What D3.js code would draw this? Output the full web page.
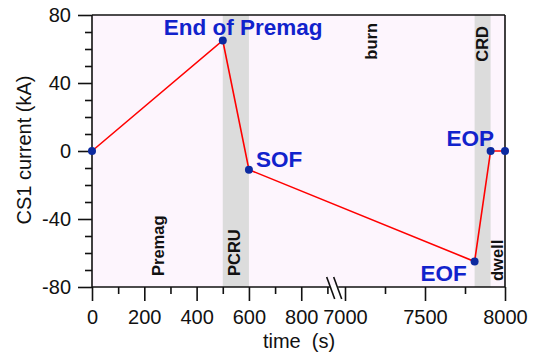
<!DOCTYPE html>
<html>
<head>
<meta charset="utf-8">
<script src="https://cdn.jsdelivr.net/npm/d3@7"></script>
<style>
  html, body { margin: 0; padding: 0; background: #ffffff; }
  svg { display: block; font-family: "Liberation Sans", Arial, sans-serif; }
</style>
</head>
<body>
<svg id="chart" width="536" height="357"></svg>
<script>
// CS1 current waveform over one pulse (time in s, current in kA)
const pointTimes    = [0, 500, 600, 7810, 7910, 8000];
const pointCurrents = [0, 65, -11, -65, 0, 0];

// named waveform events: [index into the points, label]
const eventLabels = ["End of Premag", "SOF", "EOF", "EOP"];
const eventIndex  = [1, 2, 3, 4];

// phases of the pulse: start / end time, and whether the band is shaded
const phaseNames  = ["Premag", "PCRU", "burn", "CRD", "dwell"];
const phaseStart  = [0, 500, 600, 7810, 7910];
const phaseEnd    = [500, 600, 7810, 7910, 8000];
const phaseShaded = [false, true, false, true, false];

// broken time axis: early segment and late segment
const xMajorLeft  = [0, 200, 400, 600, 800];
const xMinorLeft  = [100, 300, 500, 700, 900];
const xMajorRight = [7000, 7500, 8000];
const xMinorRight = [7250, 7750];
const yMajor = [-80, -40, 0, 40, 80];
const yMinor = [-70, -60, -50, -30, -20, -10, 10, 20, 30, 50, 60, 70];

const svg = d3.select("#chart");
const plotL = 92, plotR = 505, plotT = 15, plotB = 287;

const xLeft  = d3.scaleLinear().domain([0, 900]).range([plotL, 327.4]);
const xRight = d3.scaleLinear().domain([6950, 8000]).range([337, plotR]);
const x = t => (t <= 900 ? xLeft(t) : xRight(t));
const y = d3.scaleLinear().domain([-80, 80]).range([plotB, plotT]);

const bgColor = "#fdf5fd", bandColor = "#dcdcdc";
const blue = "#1122cc", markerBlue = "#0c2aa0";
const plainNumber = d => String(d);

// plot background
svg.append("rect")
  .attr("x", plotL).attr("y", plotT)
  .attr("width", plotR - plotL).attr("height", plotB - plotT)
  .attr("fill", bgColor);

// shaded phase bands
svg.append("g").selectAll("rect")
  .data(phaseNames.map((n, i) => ({ n, s: phaseStart[i], e: phaseEnd[i], shaded: phaseShaded[i] }))
        .filter(d => d.shaded))
  .join("rect")
  .attr("x", d => x(d.s)).attr("y", plotT)
  .attr("width", d => x(d.e) - x(d.s)).attr("height", plotB - plotT)
  .attr("fill", bandColor);

// phase names, rotated
const phaseLabelPos = {
  Premag: { x: 163.5, y: 276, anchor: "start" },
  PCRU:   { x: 240,   y: 276, anchor: "start" },
  burn:   { x: 377,   y: 23,  anchor: "end" },
  CRD:    { x: 487.5, y: 26,  anchor: "end" },
  dwell:  { x: 502.5, y: 281, anchor: "start" }
};
svg.append("g").selectAll("text")
  .data(phaseNames)
  .join("text")
  .attr("transform", d => `translate(${phaseLabelPos[d].x},${phaseLabelPos[d].y}) rotate(-90)`)
  .attr("text-anchor", d => phaseLabelPos[d].anchor)
  .attr("font-size", 16.5).attr("font-weight", "bold").attr("fill", "#111")
  .text(d => d);

// y axis: major and minor ticks
const yAxisMajor = d3.axisLeft(y).tickValues(yMajor).tickSize(14).tickPadding(7).tickFormat(plainNumber);
const yAxisMinor = d3.axisLeft(y).tickValues(yMinor).tickSize(7).tickFormat("");
svg.append("g").attr("transform", `translate(${plotL},0)`).call(yAxisMajor);
svg.append("g").attr("transform", `translate(${plotL},0)`).call(yAxisMinor);

// x axis, two segments
function xAxisPart(scale, major, minor) {
  svg.append("g").attr("transform", `translate(0,${plotB})`)
    .call(d3.axisBottom(scale).tickValues(major).tickSize(14).tickPadding(9).tickFormat(plainNumber));
  svg.append("g").attr("transform", `translate(0,${plotB})`)
    .call(d3.axisBottom(scale).tickValues(minor).tickSize(7).tickFormat(""));
}
xAxisPart(xLeft, xMajorLeft, xMinorLeft);
xAxisPart(xRight, xMajorRight, xMinorRight);

svg.selectAll(".domain").remove();
svg.selectAll(".tick line").attr("stroke", "#111").attr("stroke-width", 1.6);
svg.selectAll(".tick text").attr("font-size", 20).attr("fill", "#111")
  .attr("font-family", "'Liberation Sans', Arial, sans-serif");

// frame
const frame = svg.append("g").attr("stroke", "#111").attr("stroke-width", 1.6).attr("fill", "none");
frame.append("line").attr("x1", plotL).attr("x2", plotR).attr("y1", plotT).attr("y2", plotT);
frame.append("line").attr("x1", plotR).attr("x2", plotR).attr("y1", plotT).attr("y2", plotB);
frame.append("line").attr("x1", plotL).attr("x2", plotL).attr("y1", plotT).attr("y2", plotB);
frame.append("line").attr("x1", plotL).attr("x2", plotR).attr("y1", plotB).attr("y2", plotB);

// axis break marks
const bx = (xLeft(900) + xRight(6950)) / 2 + 2;
svg.append("rect").attr("x", bx - 4).attr("y", plotB - 2).attr("width", 8).attr("height", 4).attr("fill", "#fff");
const brk = svg.append("g").attr("stroke", "#111").attr("stroke-width", 1.6);
[-3.5, 3.5].forEach(o => {
  brk.append("line")
    .attr("x1", bx + o - 4).attr("y1", plotB - 10)
    .attr("x2", bx + o + 4).attr("y2", plotB + 12);
});

// waveform
const pts = pointTimes.map((t, i) => ({ t, v: pointCurrents[i] }));
svg.append("path")
  .datum(pts)
  .attr("fill", "none").attr("stroke", "#ff0000").attr("stroke-width", 1.6)
  .attr("d", d3.line().x(d => x(d.t)).y(d => y(d.v)));

svg.append("g").selectAll("circle")
  .data(pts)
  .join("circle")
  .attr("cx", d => x(d.t)).attr("cy", d => y(d.v)).attr("r", 4)
  .attr("fill", markerBlue);

// event labels
const eventLabelPos = {
  "End of Premag": { dx: -59, dy: -6, anchor: "start" },
  "SOF": { dx: 7, dy: -3, anchor: "start" },
  "EOF": { dx: -54, dy: 19, anchor: "start" },
  "EOP": { dx: -44, dy: -5, anchor: "start" }
};
svg.append("g").selectAll("text")
  .data(eventLabels.map((n, i) => ({ n, p: pts[eventIndex[i]] })))
  .join("text")
  .attr("x", d => x(d.p.t) + eventLabelPos[d.n].dx)
  .attr("y", d => y(d.p.v) + eventLabelPos[d.n].dy)
  .attr("text-anchor", d => eventLabelPos[d.n].anchor)
  .attr("font-size", 22.5).attr("font-weight", "bold").attr("fill", blue)
  .text(d => d.n);

// axis titles
svg.append("text")
  .attr("x", 299).attr("y", 348).attr("text-anchor", "middle")
  .attr("font-size", 20).attr("fill", "#111")
  .style("white-space", "pre")
  .text("time  (s)");

svg.append("text")
  .attr("transform", "translate(31,150) rotate(-90)")
  .attr("text-anchor", "middle")
  .attr("font-size", 20).attr("fill", "#111")
  .text("CS1 current (kA)");
</script>
</body>
</html>
